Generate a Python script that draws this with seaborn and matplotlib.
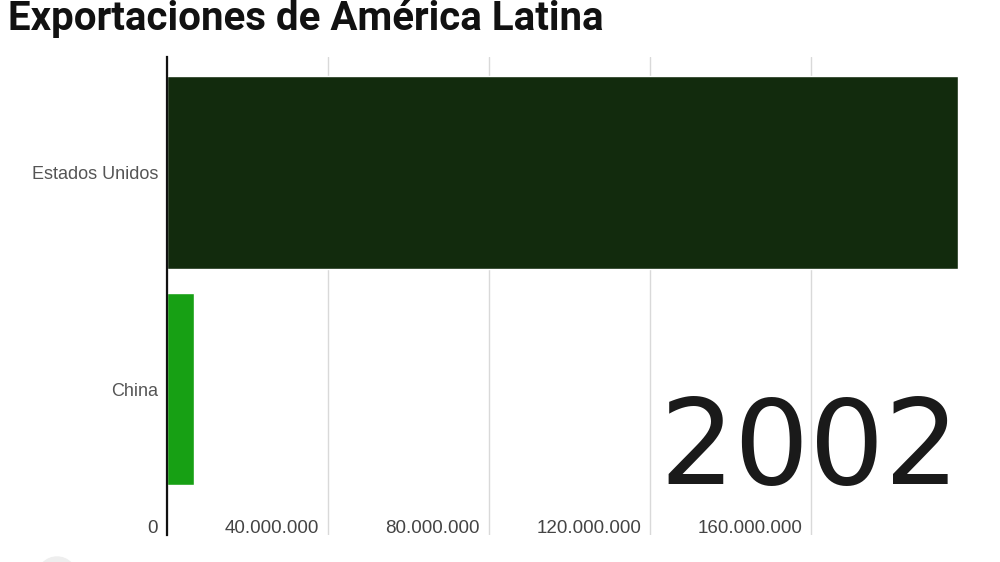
import matplotlib
matplotlib.use("Agg")
import matplotlib.pyplot as plt
import seaborn as sns
import pandas as pd
from matplotlib.transforms import ScaledTranslation
from matplotlib.patches import Ellipse

# ---- data ----
countries = ["Estados Unidos", "China"]
exports = [196_500_000, 6_700_000]
bar_colors = ["#122b0d", "#17a014"]
tick_values = [0, 40_000_000, 80_000_000, 120_000_000, 160_000_000]
tick_labels = ["0", "40.000.000", "80.000.000", "120.000.000", "160.000.000"]
title = "Exportaciones de América Latina"
year_label = "2002"

sns.set_theme(style="white")
plt.rcParams["font.family"] = ["Liberation Sans", "DejaVu Sans"]

df = pd.DataFrame({"country": countries, "exports": exports})

fig = plt.figure(figsize=(10, 5.62), dpi=100)
ax = fig.add_axes([0.167, 0.048, 0.799, 0.8506])

sns.barplot(data=df, x="exports", y="country", hue="country",
            palette=dict(zip(countries, bar_colors)), orient="h",
            width=0.89, legend=False, ax=ax, saturation=1, zorder=3)

ax.set_xlim(0, 198_500_000)
ax.set_ylim(1.675, -0.535)
ax.set_xlabel("")
ax.set_ylabel("")

# grid
ax.set_xticks(tick_values)
ax.set_xticklabels([])
ax.tick_params(axis="x", length=0)
ax.xaxis.grid(True, color="#d9d9d9", linewidth=1, zorder=0)
ax.set_axisbelow(True)

for s in ["top", "right", "bottom"]:
    ax.spines[s].set_visible(False)
ax.spines["left"].set_color("#111111")
ax.spines["left"].set_linewidth(1.6)
ax.spines["left"].set_zorder(5)

# y labels
ax.tick_params(axis="y", length=0, pad=6.5, labelsize=13, labelcolor="#555555")

# x tick labels inside the plot, right-aligned to gridlines
offset = ScaledTranslation(-9 / 100, 0, fig.dpi_scale_trans)
for v, lab in zip(tick_values, tick_labels):
    ax.text(v, 0.004, lab, transform=ax.get_xaxis_transform() + offset,
            ha="right", va="baseline", fontsize=13.5, color="#444444")

# year
ax.text(0.9925, (535 - 484) / 478, year_label, transform=ax.transAxes,
        ha="right", va="baseline", fontsize=85, color="#1a1a1a",
        family=["DejaVu Sans"])

# title
fig.text(0.008, 1 - 30 / 562, title, ha="left", va="baseline",
         fontsize=29, fontweight="bold", color="#111111",
         family=["Roboto", "Liberation Sans", "DejaVu Sans"])

# faint decoration at bottom-left
fig.patches.append(Ellipse((0.057, 1 - 577 / 562), width=0.04, height=0.04 * 1000 / 562,
                           transform=fig.transFigure, color="#eeeeee", zorder=0))

fig.savefig("out.png", dpi=100)
